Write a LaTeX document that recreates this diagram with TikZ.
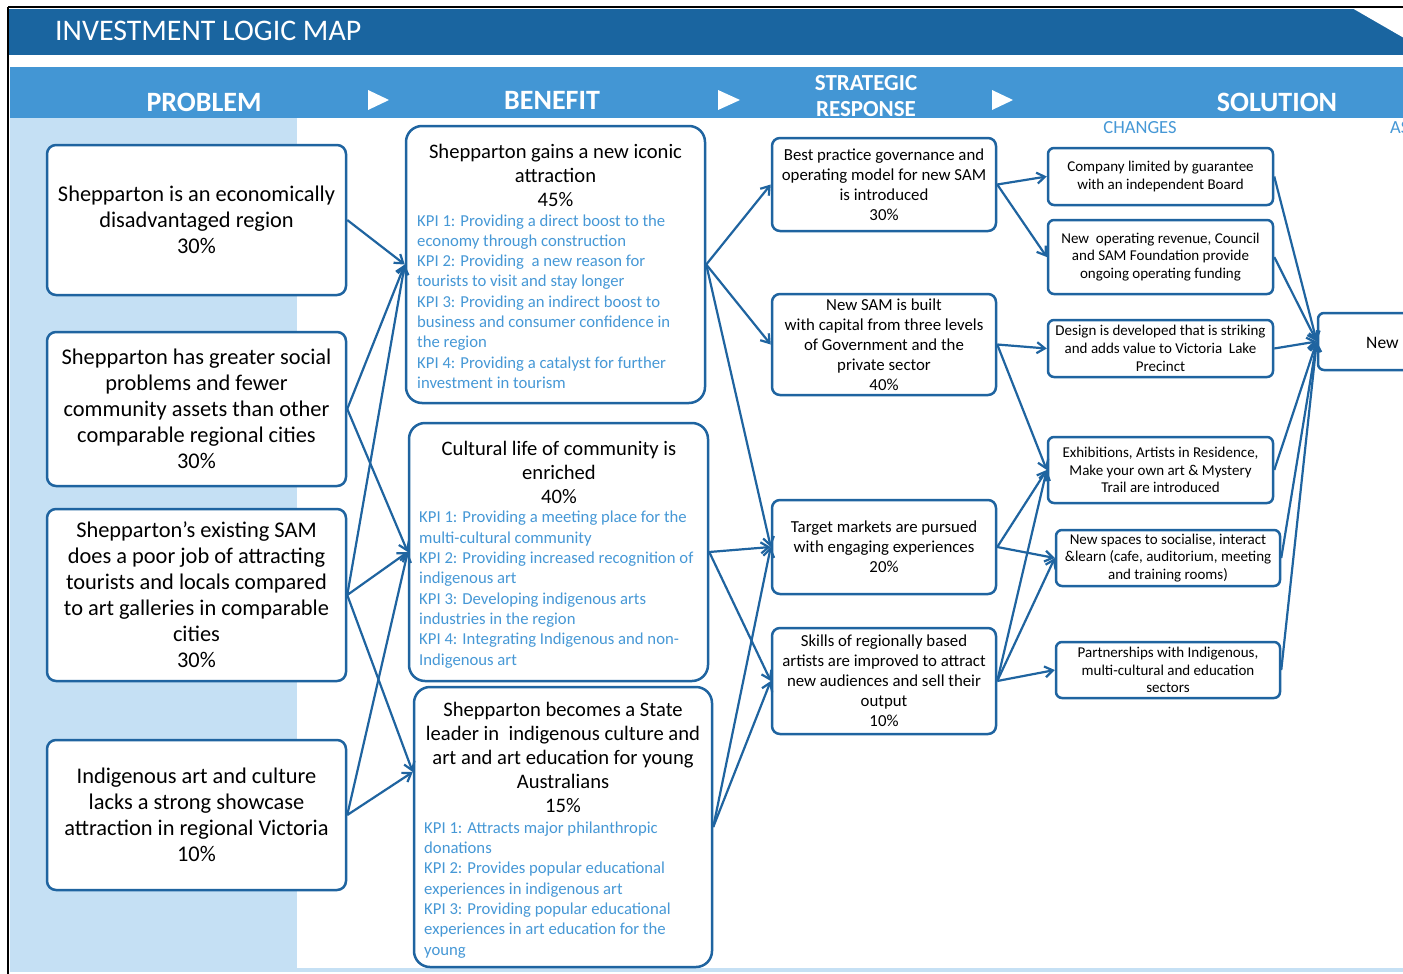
\documentclass[tikz,border=0pt]{standalone}
\usepackage{fontspec}
\setmainfont{Carlito}
\usetikzlibrary{arrows.meta}
\definecolor{darkband}{RGB}{26,101,160}
\definecolor{lightband}{RGB}{67,150,212}
\definecolor{paleblue}{RGB}{197,224,244}
\definecolor{edgeblue}{RGB}{31,100,160}
\definecolor{kpiblue}{RGB}{70,152,214}
\tikzset{
 box/.style={draw=edgeblue, line width=2.5pt, fill=white, inner sep=0pt, align=center},
 pbox/.style={box, rounded corners=9pt, font=\fontsize{22.4}{26}\selectfont},
 bbox/.style={box, rounded corners=16pt},
 sbox/.style={box, rounded corners=8pt, font=\fontsize{16.8}{20}\selectfont},
 cbox/.style={box, rounded corners=6pt, font=\fontsize{15}{17.7}\selectfont},
 btitle/.style={align=center, inner sep=0pt, font=\fontsize{20.6}{24}\selectfont, anchor=base},
 kpi/.style={align=left, inner sep=0pt, font=\fontsize{16.7}{20.3}\selectfont, text=kpiblue, anchor=base west},
 conn/.style={draw=edgeblue, line width=2.2pt, -{Straight Barb[length=8pt,width=11pt]}},
 hdr/.style={text=white, font=\fontsize{28}{30}\selectfont\bfseries, inner sep=0pt},
 playmark/.style={fill=white, draw=none},
}
\begin{document}
\begin{tikzpicture}[x=1pt,y=-1pt]
\useasboundingbox (0,0) rectangle (1403,974);
\clip (0,0) rectangle (1403,974);
% backgrounds
\fill[white] (0,0) rectangle (1403,974);
\fill[darkband] (9,9) rectangle (1403,55);
\fill[white] (1352,8) -- (1404,8) -- (1404,38) -- cycle;
\fill[lightband] (10,67) rectangle (1403,118);
\fill[paleblue] (10,118) rectangle (297,968);
\fill[paleblue] (10,968) rectangle (1403,972);
\draw[black, line width=2pt] (8,7) -- (1403,7);
\draw[black, line width=2pt] (8,7) -- (8,974);
% header texts
\node[anchor=west, text=white, inner sep=0pt, font=\fontsize{29.9}{32}\selectfont] (title) at (55,31) {INVESTMENT LOGIC MAP};
\node[hdr] (hprob) at (204,102) {PROBLEM};
\node[hdr] (hben) at (552,100) {BENEFIT};
\node[hdr, align=center, font=\fontsize{23}{26}\selectfont\bfseries] (hstrat) at (866,96) {STRATEGIC\\RESPONSE};
\node[hdr] (hsol) at (1277,102) {SOLUTION};
\fill[playmark] (368,90) -- (389,100) -- (368,110) -- cycle;
\fill[playmark] (718,90) -- (740,100) -- (718,110) -- cycle;
\fill[playmark] (992,90) -- (1013,100) -- (992,110) -- cycle;
\node[text=kpiblue, inner sep=0pt, font=\fontsize{18.5}{20}\selectfont] (hchg) at (1140,128) {CHANGES};
\node[text=kpiblue, inner sep=0pt, anchor=west, font=\fontsize{18.5}{20}\selectfont] (hass) at (1390,128) {ASSETS};
% problem boxes
\node[pbox, minimum width=299pt, minimum height=150pt] (P1) at (196.5,220) {Shepparton is an economically\\disadvantaged region\\30\%};
\node[pbox, minimum width=299pt, minimum height=154pt] (P2) at (196.5,409) {Shepparton has greater social\\problems and fewer\\community assets than other\\comparable regional cities\\30\%};
\node[pbox, minimum width=299pt, minimum height=172pt] (P3) at (196.5,595) {Shepparton’s existing SAM\\does a poor job of attracting\\tourists and locals compared\\to art galleries in comparable\\cities\\30\%};
\node[pbox, minimum width=299pt, minimum height=150pt] (P4) at (196.5,815) {Indigenous art and culture\\lacks a strong showcase\\attraction in regional Victoria\\10\%};
% benefit boxes
\node[bbox, minimum width=299pt, minimum height=277pt] (B1) at (555.5,264.5) {};
\node[btitle] (B1t) at (555.5,206) {Shepparton gains a new iconic\\attraction\\45\%};
\node[kpi] (B1k) at (417,388.4) {KPI 1: Providing a direct boost to the\\economy through construction\\KPI 2: Providing\ \ a new reason for\\tourists to visit and stay longer\\KPI 3: Providing an indirect boost to\\business and consumer confidence in\\the region\\KPI 4: Providing a catalyst for further\\investment in tourism};
\node[bbox, minimum width=299pt, minimum height=258pt] (B2) at (558.5,552) {};
\node[btitle] (B2t) at (559,503) {Cultural life of community is\\enriched\\40\%};
\node[kpi] (B2k) at (419,665) {KPI 1: Providing a meeting place for the\\multi-cultural community\\KPI 2: Providing increased recognition of\\indigenous art\\KPI 3: Developing indigenous arts\\industries in the region\\KPI 4: Integrating Indigenous and non-\\Indigenous art};
\node[bbox, minimum width=298pt, minimum height=280pt] (B3) at (563,827) {};
\node[btitle] (B3t) at (563,812) {Shepparton becomes a State\\leader in\ \ indigenous culture and\\art and art education for young\\Australians\\15\%};
\node[kpi] (B3k) at (424,955) {KPI 1: Attracts major philanthropic\\donations\\KPI 2: Provides popular educational\\experiences in indigenous art\\KPI 3: Providing popular educational\\experiences in art education for the\\young};
% strategic response boxes
\node[sbox, minimum width=224pt, minimum height=93pt] (S1) at (884,184.5) {Best practice governance and\\operating model for new SAM\\is introduced\\30\%};
\node[sbox, minimum width=224pt, minimum height=101pt] (S2) at (884,344.5) {New SAM is built\\with capital from three levels\\of Government and the\\private sector\\40\%};
\node[sbox, minimum width=224pt, minimum height=94pt] (S3) at (884,547) {Target markets are pursued\\with engaging experiences\\20\%};
\node[sbox, minimum width=224pt, minimum height=106pt] (S4) at (884,681) {Skills of regionally based\\artists are improved to attract\\new audiences and sell their\\output\\10\%};
% change boxes
\node[cbox, minimum width=225pt, minimum height=57pt] (C1) at (1160.5,176.5) {Company limited by guarantee\\with an independent Board};
\node[cbox, minimum width=225pt, minimum height=74pt] (C2) at (1160.5,257) {New\ \ operating revenue, Council\\and SAM Foundation provide\\ongoing operating funding};
\node[cbox, minimum width=225pt, minimum height=57pt] (C3) at (1160.5,348.5) {Design is developed that is striking\\and adds value to Victoria\ \ Lake\\Precinct};
\node[cbox, minimum width=225pt, minimum height=66pt] (C4) at (1160.5,470) {Exhibitions, Artists in Residence,\\Make your own art \& Mystery\\Trail are introduced};
\node[cbox, minimum width=224pt, minimum height=56pt] (C5) at (1168,558) {New spaces to socialise, interact\\\&learn (cafe, auditorium, meeting\\and training rooms)};
\node[cbox, minimum width=224pt, minimum height=56pt] (C6) at (1168,670) {Partnerships with Indigenous,\\multi-cultural and education\\sectors};
% asset box (cut by the page edge)
\node[box, rounded corners=6pt, minimum width=162pt, minimum height=57pt] (A) at (1399,341.5) {};
\node[anchor=west, inner sep=0pt, font=\fontsize{17.5}{20}\selectfont] (At) at (1366,343) {New};
% connectors problem -> benefit
\coordinate (b3in) at ([yshift=55pt]B3.west);
\draw[conn] (P1.east) -- (B1.west);
\draw[conn] (P2.east) -- (B1.west);
\draw[conn] (P2.east) -- (B2.west);
\draw[conn] (P3.east) -- (B1.west);
\draw[conn] (P3.east) -- (B2.west);
\draw[conn] (P3.east) -- (b3in);
\draw[conn] (P4.east) -- (B2.west);
\draw[conn] (P4.east) -- (b3in);
% benefit -> strategic
\draw[conn] (B1.east) -- (S1.west);
\draw[conn] (B1.east) -- (S2.west);
\draw[conn] (B1.east) -- (S3.west);
\draw[conn] (B2.east) -- (S3.west);
\draw[conn] (B2.east) -- (S4.west);
\draw[conn] (B3.east) -- (S3.west);
\draw[conn] (B3.east) -- (S4.west);
% strategic -> changes
\draw[conn] (S1.east) -- (C1.west);
\draw[conn] (S1.east) -- (C2.west);
\draw[conn] (S2.east) -- (C3.west);
\draw[conn] (S2.east) -- (C4.west);
\draw[conn] (S3.east) -- (C4.west);
\draw[conn] (S3.east) -- (C5.west);
\draw[conn] (S4.east) -- (C4.west);
\draw[conn] (S4.east) -- (C5.west);
\draw[conn] (S4.east) -- (C6.west);
% changes -> asset
\draw[conn] (C1.east) -- (A.west);
\draw[conn] (C2.east) -- (A.west);
\draw[conn] (C3.east) -- (A.west);
\draw[conn] (C4.east) -- (A.west);
\draw[conn] (C5.east) -- (A.west);
\draw[conn] (C6.east) -- (A.west);
\end{tikzpicture}
\end{document}
